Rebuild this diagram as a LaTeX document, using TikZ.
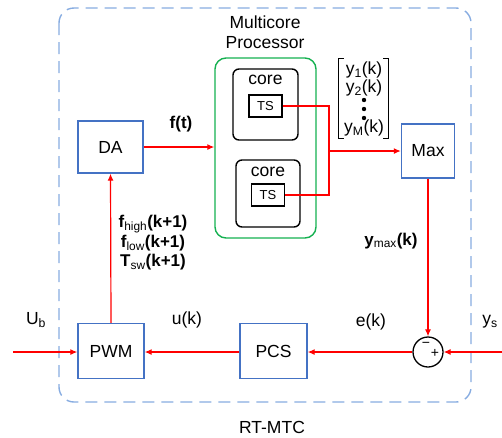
\documentclass[tikz,border=0pt]{standalone}
\usepackage{fontspec}
\setmainfont{Liberation Sans}
\usetikzlibrary{arrows.meta, positioning, fit, calc}
\definecolor{boxblue}{RGB}{68,114,196}
\definecolor{dashblue}{RGB}{135,172,225}
\definecolor{procgreen}{RGB}{20,176,80}
\tikzset{
  blockbox/.style={
    draw=boxblue,
    line width=1.4pt,
    minimum width=65pt,
    minimum height=54pt,
    inner sep=0pt,
    font=\fontsize{17.5}{20}\selectfont,
  },
  corebox/.style={
    draw=black,
    line width=1.4pt,
    rounded corners=6pt,
    inner sep=0pt,
  },
  tsbox/.style={
    draw=black,
    line width=1.1pt,
    minimum width=33pt,
    minimum height=22pt,
    inner sep=0pt,
    font=\fontsize{13}{13}\selectfont,
  },
  groupbox/.style={
    draw=dashblue,
    line width=1.4pt,
    dash pattern=on 12pt off 7pt,
    rounded corners=15pt,
  },
  sig/.style={draw=red, line width=1.2pt},
  arr/.style={-{Latex[length=7pt, width=6pt]}, sig},
  txt/.style={font=\fontsize{17.5}{20}\selectfont, inner sep=0pt, align=center},
  btxt/.style={font=\fontsize{17}{19.5}\selectfont\bfseries, inner sep=0pt, align=center},
}

\begin{document}
\begin{tikzpicture}[x=1pt, y=-1pt]
\useasboundingbox (0,0) rectangle (502,437);

% --- RT-MTC frame ---
\draw[groupbox] (59,8) rectangle (471,402);
\node[txt] (rtmtc) at (272,427) {RT-MTC};

% --- Multicore processor ---
\node[txt] (proctitle) at (265,32) {Multicore\\Processor};
\node[corebox, draw=procgreen, rounded corners=11pt, minimum width=101pt, minimum height=180pt] (proc) at (265.5,148) {};
\node[corebox, minimum width=65pt, minimum height=71pt] (core1) at (265.5,104.5) {};
\node[txt] (core1lbl) at ($(core1.north)+(0,12)$) {core};
\node[tsbox] (ts1) at (265.5,106) {TS};
\node[corebox, minimum width=64pt, minimum height=67pt] (core2) at (268,193.5) {};
\node[txt] (core2lbl) at ($(core2.north)+(0,13)$) {core};
\node[tsbox] (ts2) at (268,195) {TS};

% --- Output vector ---
\node[txt] (y1) at (364,70) {y\textsubscript{1}(k)};
\node[txt] (y2) at (364,88) {y\textsubscript{2}(k)};
\node[txt] (yM) at (364,128) {y\textsubscript{M}(k)};
\foreach \yy in {100,109,118}
  \fill (364,\yy) circle (2.2pt);
\node[minimum width=49pt, minimum height=79pt, inner sep=0pt] (vec) at (363.5,98.5) {};
\draw[line width=1.3pt] ($(vec.north west)+(5,0)$) -- (vec.north west) -- (vec.south west) -- ($(vec.south west)+(5,0)$);
\draw[line width=1.3pt] ($(vec.north east)+(-5,0)$) -- (vec.north east) -- (vec.south east) -- ($(vec.south east)+(-5,0)$);

% --- Blocks ---
\node[blockbox, minimum height=52pt] (DA) at (110.5,147) {DA};
\node[blockbox, minimum width=53pt] (Max) at (428,151) {Max};
\node[blockbox, minimum width=66pt, minimum height=55pt] (PWM) at (111,351) {PWM};
\node[blockbox, minimum width=67pt, minimum height=55pt] (PCS) at (273.5,351) {PCS};
\node[draw=black, line width=1.3pt, circle, minimum size=30pt, inner sep=0pt] (sum) at (428,352) {};
\node[font=\fontsize{14}{14}\selectfont, inner sep=0pt] (minus) at ($(sum.center)+(-2,-7)$) {−};
\node[font=\fontsize{14}{14}\selectfont, inner sep=0pt] (plus) at ($(sum.center)+(7,1)$) {+};

% --- Signal labels ---
\node[btxt] (ft) at (181,124) {f(t)};
\node[btxt] (fparams) at (153,243) {f\textsubscript{\mdseries high}(k+1)\\f\textsubscript{\mdseries low}(k+1)\\T\textsubscript{\mdseries sw}(k+1)};
\node[btxt] (ymax) at (391,241) {y\textsubscript{\mdseries max}(k)};
\node[txt] (ub) at (36,320) {U\textsubscript{b}};
\node[txt] (uk) at (187,320) {u(k)};
\node[txt] (ek) at (371,322) {e(k)};
\node[txt] (ys) at (490,322) {y\textsubscript{s}};

% --- Connectors ---
\coordinate (join) at (329,151);
\coordinate (ubin) at (13,352);
\coordinate (ysin) at (502,352);
\draw[arr] (DA.east) -- (proc.west |- DA.east);
\draw[sig] (ts1.east) -| (join);
\draw[sig] (ts2.east) -| (join);
\draw[arr] (join) -- (Max.west |- join);
\draw[arr] (Max.south) -- (sum.north);
\draw[arr] (ysin) -- (sum.east);
\draw[arr] (sum.west) -- (PCS.east |- sum.west);
\draw[arr] (PCS.west |- sum.west) -- (PWM.east |- sum.west);
\draw[arr] (ubin) -- (PWM.west |- ubin);
\draw[arr] (PWM.north) -- (DA.south);

\end{tikzpicture}
\end{document}
